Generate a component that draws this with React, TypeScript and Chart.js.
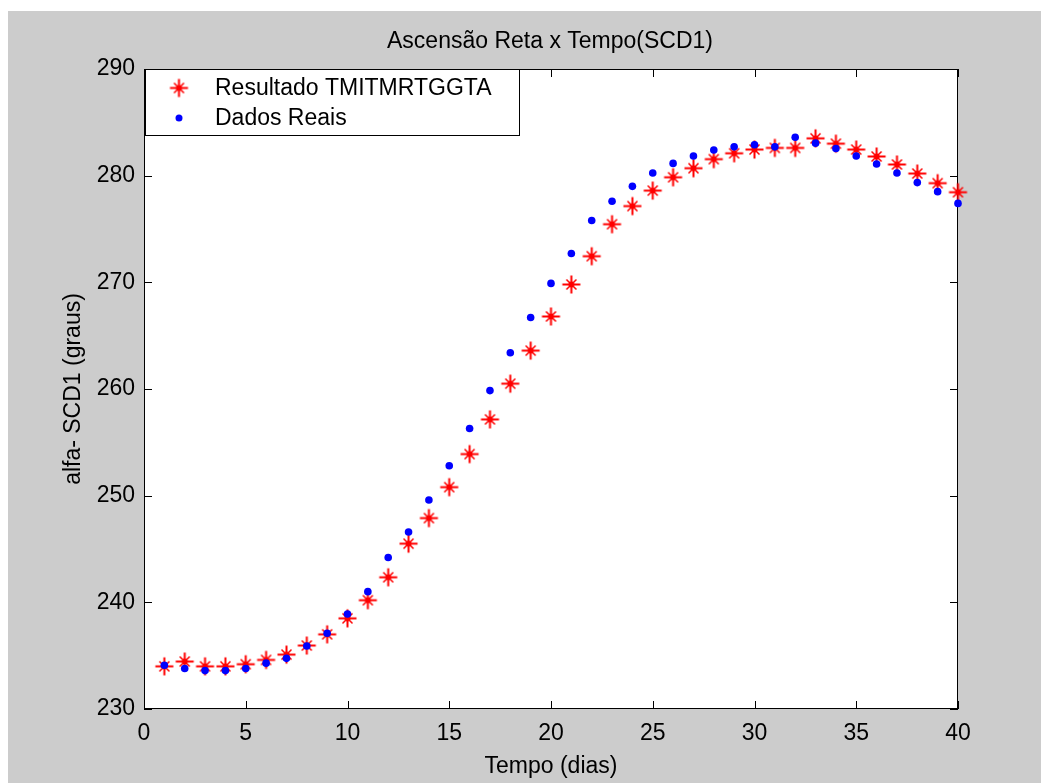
import React, { useEffect, useRef } from 'react';
import { Chart, registerables } from 'chart.js';

Chart.register(...registerables);

const days = [1, 2, 3, 4, 5, 6, 7, 8, 9, 10, 11, 12, 13, 14, 15, 16, 17, 18, 19, 20, 21, 22, 23, 24, 25, 26, 27, 28, 29, 30, 31, 32, 33, 34, 35, 36, 37, 38, 39, 40];
const resultado = [234.0, 234.45, 234.0, 234.0, 234.2, 234.6, 235.1, 235.95, 237.0, 238.5, 240.2, 242.35, 245.5, 247.9, 250.8, 253.9, 257.15, 260.5, 263.6, 266.8, 269.8, 272.45, 275.45, 277.15, 278.6, 279.85, 280.7, 281.55, 282.1, 282.45, 282.6, 282.6, 283.5, 283.0, 282.45, 281.8, 281.05, 280.2, 279.3, 278.45];
const dadosReais = [234.1, 233.8, 233.6, 233.6, 233.8, 234.3, 234.75, 235.9, 237.1, 238.9, 241.0, 244.2, 246.6, 249.6, 252.8, 256.3, 259.85, 263.4, 266.7, 269.9, 272.7, 275.8, 277.6, 279.0, 280.25, 281.15, 281.85, 282.4, 282.7, 282.9, 282.7, 283.6, 283.05, 282.55, 281.85, 281.1, 280.25, 279.35, 278.5, 277.4];
const xTicks = [0, 5, 10, 15, 20, 25, 30, 35, 40];
const yTicks = [230, 240, 250, 260, 270, 280, 290];
const titleText = 'Ascensão Reta x Tempo(SCD1)';
const xLabel = 'Tempo (dias)';
const yLabel = 'alfa- SCD1 (graus)';
const seriesLabels = ['Resultado TMITMRTGGTA', 'Dados Reais'];

const FONT = '"Liberation Sans", Arial, Helvetica, sans-serif';
const FSIZE = 23;
const W = 1033;
const H = 772;

function makeStar(): HTMLCanvasElement {
  const c = document.createElement('canvas');
  c.width = 21;
  c.height = 21;
  const g = c.getContext('2d')!;
  const m = 10.5;
  g.strokeStyle = '#ff0000';
  g.lineWidth = 2;
  g.beginPath();
  g.moveTo(m - 9, m); g.lineTo(m + 9, m);
  g.moveTo(m, m - 9); g.lineTo(m, m + 9);
  g.stroke();
  g.lineWidth = 1.5;
  g.beginPath();
  g.moveTo(m - 5, m - 5); g.lineTo(m + 5, m + 5);
  g.moveTo(m - 5, m + 5); g.lineTo(m + 5, m - 5);
  g.stroke();
  g.fillStyle = '#ff0000';
  g.beginPath();
  g.arc(m, m, 3, 0, Math.PI * 2);
  g.fill();
  return c;
}

export default function App() {
  const ref = useRef<HTMLCanvasElement | null>(null);

  useEffect(() => {
    if (!ref.current) return;
    const star = makeStar();

    const matlabPlugin = {
      id: 'matlabAxes',
      beforeDraw(chart: any) {
        const { ctx, chartArea } = chart;
        ctx.save();
        ctx.fillStyle = '#cccccc';
        ctx.fillRect(0, 0, chart.width, chart.height);
        ctx.fillStyle = '#ffffff';
        ctx.fillRect(chartArea.left, chartArea.top, chartArea.right - chartArea.left, chartArea.bottom - chartArea.top);
        ctx.restore();
      },
      beforeDatasetsDraw(chart: any) {
        const { ctx, chartArea, scales } = chart;
        const { left, right, top, bottom } = chartArea;
        ctx.save();
        ctx.strokeStyle = '#000000';
        ctx.lineWidth = 1;
        ctx.strokeRect(left + 0.5, top + 0.5, right - left - 1, bottom - top - 1);
        ctx.beginPath();
        const tl = 8;
        xTicks.forEach((v) => {
          const px = Math.round(scales.x.getPixelForValue(v)) + 0.5;
          ctx.moveTo(px, bottom); ctx.lineTo(px, bottom - tl);
          ctx.moveTo(px, top); ctx.lineTo(px, top + tl);
        });
        yTicks.forEach((v) => {
          const py = Math.round(scales.y.getPixelForValue(v)) + 0.5;
          ctx.moveTo(left, py); ctx.lineTo(left + tl, py);
          ctx.moveTo(right, py); ctx.lineTo(right - tl, py);
        });
        ctx.stroke();
        ctx.restore();
      },
      afterDraw(chart: any) {
        const { ctx, chartArea } = chart;
        ctx.save();
        ctx.fillStyle = '#000000';
        ctx.font = `${FSIZE}px ${FONT}`;
        ctx.textAlign = 'center';
        ctx.textBaseline = 'middle';
        ctx.fillText(titleText, (chartArea.left + chartArea.right) / 2 - 1, 31);
        const lx = chartArea.left + 1;
        const ly = chartArea.top;
        const lw = 375;
        const lh = 67;
        ctx.fillStyle = '#ffffff';
        ctx.fillRect(lx, ly, lw, lh);
        ctx.strokeStyle = '#000000';
        ctx.lineWidth = 1;
        ctx.strokeRect(lx + 0.5, ly + 0.5, lw - 1, lh - 1);
        const mx = lx + 34;
        const r1 = ly + 19;
        const r2 = ly + 49;
        ctx.drawImage(star, mx - star.width / 2, r1 - star.height / 2);
        ctx.fillStyle = '#0000ff';
        ctx.beginPath();
        ctx.arc(mx, r2, 3.5, 0, Math.PI * 2);
        ctx.fill();
        ctx.fillStyle = '#000000';
        ctx.textAlign = 'left';
        ctx.fillText(seriesLabels[0], lx + 70, r1 + 1);
        ctx.fillText(seriesLabels[1], lx + 70, r2 + 1);
        ctx.restore();
      },
    };

    const chart = new Chart(ref.current, {
      type: 'scatter',
      data: {
        datasets: [
          {
            label: seriesLabels[0],
            data: days.map((d, i) => ({ x: d, y: resultado[i] })),
            pointStyle: star as any,
            pointRadius: 8,
            showLine: false,
            order: 1,
            clip: false as any,
          },
          {
            label: seriesLabels[1],
            data: days.map((d, i) => ({ x: d, y: dadosReais[i] })),
            pointStyle: 'circle',
            pointRadius: 3.8,
            pointBorderWidth: 0,
            backgroundColor: '#0000ff',
            borderColor: '#0000ff',
            showLine: false,
            order: 0,
            clip: false as any,
          },
        ],
      },
      options: {
        responsive: false,
        animation: false,
        events: [],
        layout: { padding: { left: 0, top: 58, right: 83, bottom: 0 } },
        plugins: {
          legend: { display: false },
          title: { display: false },
          tooltip: { enabled: false },
        },
        scales: {
          x: {
            type: 'linear',
            min: 0,
            max: 40,
            border: { display: false },
            grid: { display: false },
            afterBuildTicks: (s: any) => { s.ticks = xTicks.map((v) => ({ value: v })); },
            afterFit: (s: any) => { s.height = 74; },
            ticks: {
              color: '#000000',
              padding: 3,
              maxRotation: 0,
              font: { family: FONT, size: FSIZE },
            },
            title: {
              display: true,
              text: xLabel,
              color: '#000000',
              font: { family: FONT, size: FSIZE },
              padding: { top: 0, bottom: 3 },
            },
          },
          y: {
            type: 'linear',
            min: 230,
            max: 290,
            border: { display: false },
            grid: { display: false },
            afterBuildTicks: (s: any) => { s.ticks = yTicks.map((v) => ({ value: v })); },
            afterFit: (s: any) => { s.width = 136; },
            ticks: {
              color: '#000000',
              padding: 1,
              font: { family: FONT, size: FSIZE },
            },
            title: {
              display: true,
              text: yLabel,
              color: '#000000',
              font: { family: FONT, size: FSIZE },
              padding: { top: 52, bottom: 0 },
            },
          },
        },
      },
      plugins: [matlabPlugin],
    });

    return () => chart.destroy();
  }, []);

  return (
    <div style={{ position: 'absolute', left: 8, top: 11, width: W, height: H }}>
      <canvas ref={ref} width={W} height={H} style={{ display: 'block', width: W, height: H }} />
    </div>
  );
}
